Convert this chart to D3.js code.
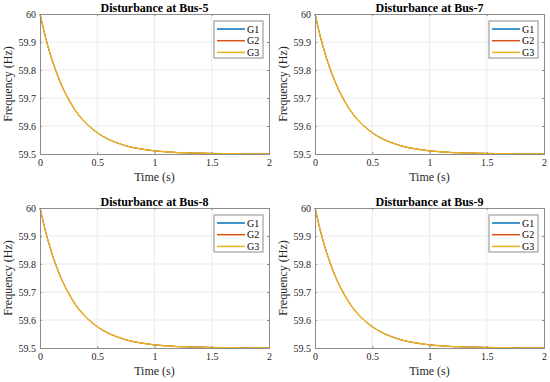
<!DOCTYPE html>
<html>
<head>
<meta charset="utf-8">
<script src="https://cdn.jsdelivr.net/npm/d3@7"></script>
<style>
  body { margin: 0; background: #fff; }
  svg { display: block; }
</style>
</head>
<body>
<script>
const WIDTH = 550;
const HEIGHT = 382;

// panel titles
var TITLES = ["Disturbance at Bus-5", "Disturbance at Bus-7", "Disturbance at Bus-8", "Disturbance at Bus-9"];

// time (s)
var TIME = [0, 0.05, 0.1, 0.15, 0.2, 0.25, 0.3, 0.35, 0.4, 0.45, 0.5, 0.6, 0.7, 0.8, 0.9, 1.0,
  1.1, 1.2, 1.3, 1.4, 1.5, 1.6, 1.7, 1.8, 1.9, 2.0];

// frequency (Hz), the three generators overlap
var G1 = [60.000, 59.914, 59.843, 59.784, 59.735, 59.695, 59.661, 59.633, 59.611, 59.592, 59.576,
  59.552, 59.536, 59.524, 59.517, 59.511, 59.508, 59.505, 59.504, 59.503, 59.502, 59.501, 59.501,
  59.500, 59.500, 59.500];
var G2 = [60.000, 59.914, 59.843, 59.784, 59.735, 59.695, 59.661, 59.633, 59.611, 59.592, 59.576,
  59.552, 59.536, 59.524, 59.517, 59.511, 59.508, 59.505, 59.504, 59.503, 59.502, 59.501, 59.501,
  59.500, 59.500, 59.500];
var G3 = [60.000, 59.914, 59.843, 59.784, 59.735, 59.695, 59.661, 59.633, 59.611, 59.592, 59.576,
  59.552, 59.536, 59.524, 59.517, 59.511, 59.508, 59.505, 59.504, 59.503, 59.502, 59.501, 59.501,
  59.500, 59.500, 59.500];

var SERIES_NAMES = ["G1", "G2", "G3"];
var X_TICKS = [0, 0.5, 1, 1.5, 2];
var Y_TICKS = [59.5, 59.6, 59.7, 59.8, 59.9, 60];

var COLORS = ["#0072BD", "#D95319", "#EDB120"];
var WIDTHS = [1.0, 1.0, 1.4];
var FONT = "'Liberation Serif', 'Times New Roman', serif";

var svg = d3.select("body")
  .append("svg")
  .attr("width", WIDTH)
  .attr("height", HEIGHT);

// panel positions (plot area)
var PANELS = [
  { x: 40, y: 14 }, { x: 315, y: 14 },
  { x: 40, y: 208 }, { x: 315, y: 208 }
];
var PW = 229;
var PH = 140;

var xScale = d3.scaleLinear().domain([0, 2]).range([0, PW]);
var yScale = d3.scaleLinear().domain([59.5, 60]).range([PH, 0]);

var seriesData = [G1, G2, G3].map((vals, k) => ({
  name: SERIES_NAMES[k],
  color: COLORS[k],
  width: WIDTHS[k],
  points: TIME.map((t, i) => [t, vals[i]])
}));

var line = d3.line()
  .x((d) => xScale(d[0]))
  .y((d) => yScale(d[1]))
  .curve(d3.curveMonotoneX);

PANELS.forEach(function (p, idx) {
  var g = svg.append("g").attr("transform", "translate(" + p.x + "," + p.y + ")");

  //grid
  g.append("g")
    .selectAll("line.gx")
    .data(X_TICKS.slice(1, -1))
    .enter()
    .append("line")
    .attr("x1", (d) => xScale(d)).attr("x2", (d) => xScale(d))
    .attr("y1", 0).attr("y2", PH)
    .attr("stroke", "#e6e6e6").attr("stroke-width", 0.8);

  g.append("g")
    .selectAll("line.gy")
    .data(Y_TICKS.slice(1, -1))
    .enter()
    .append("line")
    .attr("x1", 0).attr("x2", PW)
    .attr("y1", (d) => yScale(d)).attr("y2", (d) => yScale(d))
    .attr("stroke", "#e6e6e6").attr("stroke-width", 0.8);

  //lines
  g.append("g")
    .selectAll("path")
    .data(seriesData)
    .enter()
    .append("path")
    .attr("d", (d) => line(d.points))
    .attr("fill", "none")
    .attr("stroke", (d) => d.color)
    .attr("stroke-width", (d) => d.width);

  //axes (inside ticks, matlab style)
  var xAxis = d3.axisBottom(xScale).tickValues(X_TICKS).tickSize(-2).tickPadding(5).tickFormat(d3.format("~g"));
  var yAxis = d3.axisLeft(yScale).tickValues(Y_TICKS).tickSize(-2).tickPadding(4).tickFormat(d3.format("~g"));

  g.append("g").attr("transform", "translate(0," + PH + ")").call(xAxis);
  g.append("g").call(yAxis);
  g.append("g").call(d3.axisTop(xScale).tickValues(X_TICKS).tickSize(-2).tickFormat(""));
  g.append("g").attr("transform", "translate(" + PW + ",0)")
    .call(d3.axisRight(yScale).tickValues(Y_TICKS).tickSize(-2).tickFormat(""));

  g.selectAll(".domain").attr("stroke", "#8c8c8c").attr("stroke-width", 1);
  g.selectAll(".tick line").attr("stroke", "#8c8c8c");
  g.selectAll(".tick text")
    .attr("font-family", FONT)
    .attr("font-size", "10px")
    .attr("fill", "#262626");

  //title
  g.append("text")
    .text(TITLES[idx])
    .attr("x", PW / 2)
    .attr("y", -2)
    .attr("text-anchor", "middle")
    .attr("font-family", FONT)
    .attr("font-weight", "bold")
    .attr("font-size", "12px")
    .attr("fill", "#000");

  //axis labels
  g.append("text")
    .text("Time (s)")
    .attr("x", PW / 2)
    .attr("y", PH + 27)
    .attr("text-anchor", "middle")
    .attr("font-family", FONT)
    .attr("font-size", "12px")
    .attr("fill", "#262626");

  g.append("text")
    .text("Frequency (Hz)")
    .attr("transform", "translate(" + (-28) + "," + (PH / 2) + ") rotate(-90)")
    .attr("text-anchor", "middle")
    .attr("font-family", FONT)
    .attr("font-size", "12px")
    .attr("fill", "#262626");

  //legend
  var lg = g.append("g").attr("transform", "translate(" + (PW - 55) + ",7)");
  lg.append("rect")
    .attr("width", 49).attr("height", 37)
    .attr("fill", "#fff")
    .attr("stroke", "#8c8c8c").attr("stroke-width", 1);

  var items = lg.selectAll("g.item")
    .data(seriesData)
    .enter()
    .append("g")
    .attr("transform", (d, i) => "translate(0," + (8 + i * 11.7) + ")");

  items.append("line")
    .attr("x1", 3).attr("x2", 31)
    .attr("stroke", (d) => d.color)
    .attr("stroke-width", 1.5);

  items.append("text")
    .text((d) => d.name)
    .attr("x", 33)
    .attr("y", 3.5)
    .attr("font-family", FONT)
    .attr("font-size", "10px")
    .attr("fill", "#000");
});
</script>
</body>
</html>
